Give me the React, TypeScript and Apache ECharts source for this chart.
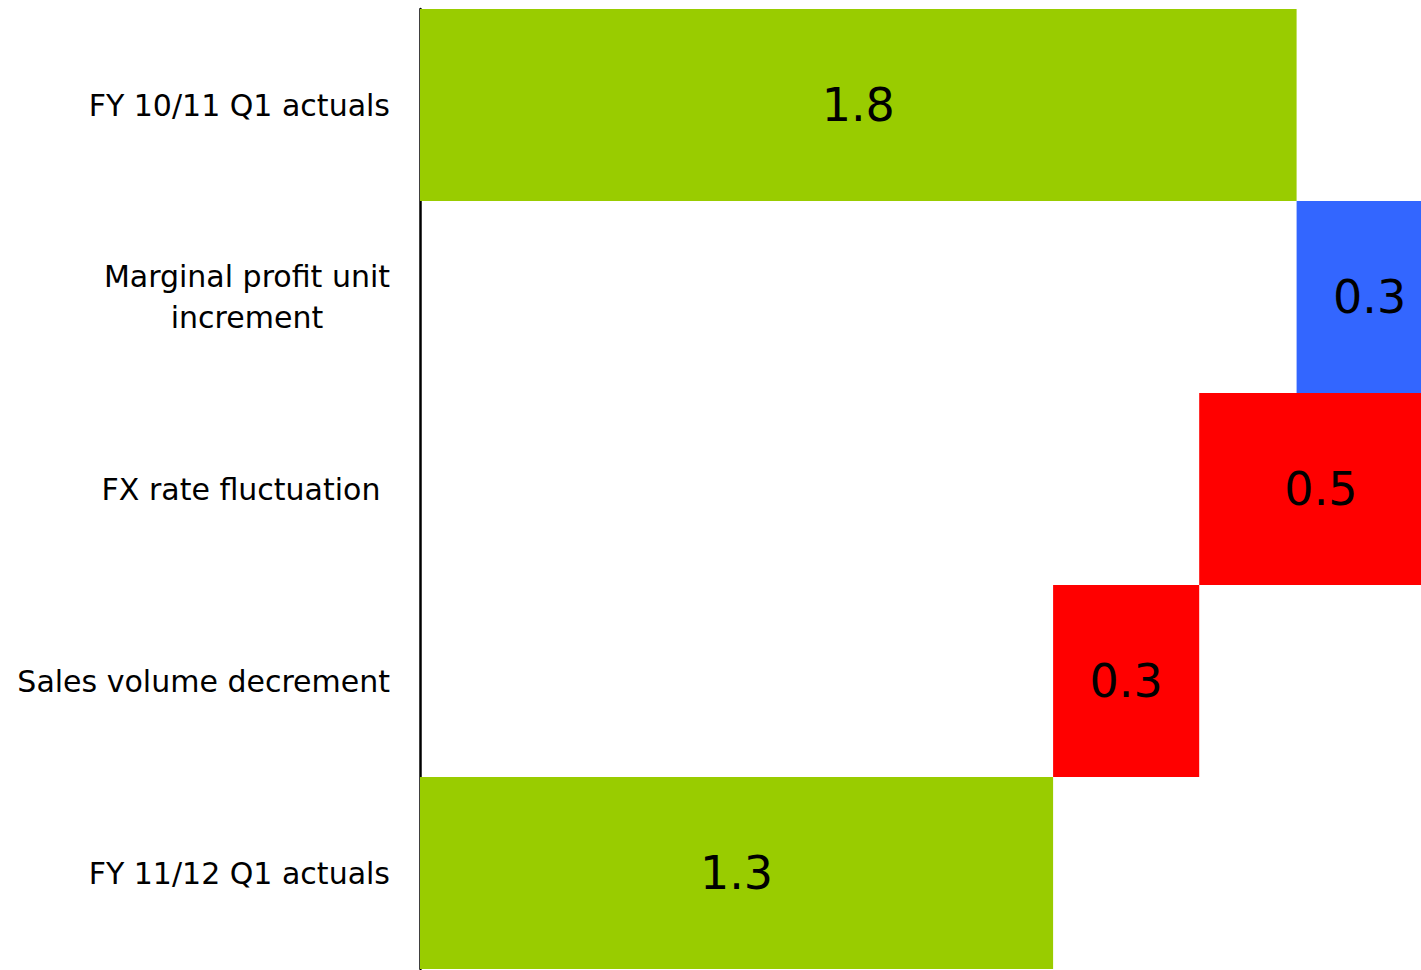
import React, { useEffect, useRef } from "react";
import * as echarts from "echarts";

const categories = [
  "FY 10/11 Q1 actuals",
  "Marginal profit unit\nincrement",
  "FX rate fluctuation ",
  "Sales volume decrement",
  "FY 11/12 Q1 actuals",
];
const kinds = ["total", "increase", "decrease", "decrease", "total"];
const amounts = [1.8, 0.3, 0.5, 0.3, 1.3];

const COLORS: Record<string, string> = {
  total: "#99CC00",
  increase: "#3366FF",
  decrease: "#FF0000",
};

function computeBases(): number[] {
  let running = 0;
  return amounts.map((v, i) => {
    const k = kinds[i];
    if (k === "total") {
      running = v;
      return 0;
    }
    if (k === "increase") {
      const b = running;
      running += v;
      return b;
    }
    running -= v;
    return running;
  });
}

const FONT = "'DejaVu Sans', sans-serif";

export default function App() {
  const ref = useRef<HTMLDivElement>(null);
  useEffect(() => {
    if (!ref.current) return;
    const chart = echarts.init(ref.current, null, { renderer: "svg" });
    const bases = computeBases();
    chart.setOption({
      animation: false,
      grid: { left: 420, top: 9, height: 960, width: 2.4 * 487 },
      xAxis: {
        type: "value",
        min: 0,
        max: 2.4,
        show: false,
        splitLine: { show: false },
      },
      yAxis: {
        type: "category",
        data: categories,
        inverse: true,
        axisLine: { show: true, lineStyle: { color: "#000", width: 2.5 } },
        axisTick: { show: false },
        axisLabel: {
          margin: 30,
          color: "#000",
          fontSize: 30,
          fontFamily: FONT,
          lineHeight: 41,
          formatter: (v: string) =>
            v.includes("\n")
              ? v
                  .split("\n")
                  .map((l) => `{c|${l}}`)
                  .join("\n")
              : v,
          rich: {
            c: {
              align: "center",
              fontSize: 30,
              fontFamily: FONT,
              color: "#000",
              lineHeight: 41,
            },
          },
        },
      },
      series: [
        {
          type: "bar",
          stack: "w",
          data: bases,
          itemStyle: { color: "transparent" },
          barCategoryGap: 0,
          silent: true,
        },
        {
          type: "bar",
          stack: "w",
          barCategoryGap: 0,
          data: amounts.map((v, i) => ({
            value: v,
            itemStyle: { color: COLORS[kinds[i]] },
          })),
          label: {
            show: true,
            position: "inside",
            color: "#000",
            fontSize: 46,
            fontFamily: FONT,
            formatter: (p: any) => Number(p.value).toFixed(1),
          },
        },
      ],
    });
    return () => chart.dispose();
  }, []);
  return (
    <div
      style={{
        position: "fixed",
        left: 0,
        top: 0,
        width: 1421,
        height: 970,
        overflow: "hidden",
        background: "#fff",
      }}
    >
      <div ref={ref} style={{ width: 1620, height: 970 }} />
    </div>
  );
}
